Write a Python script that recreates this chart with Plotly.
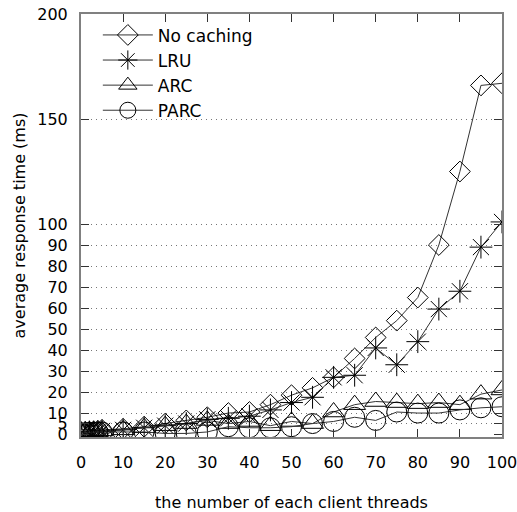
import plotly.graph_objects as go

threads = [0, 1, 2, 3, 4, 5, 10, 15, 20, 25, 30, 35, 40, 45, 50, 55, 60, 65, 70, 75, 80, 85, 90, 95, 100]
no_caching = [1, 1, 1.2, 1.3, 1.5, 2, 2.5, 3.5, 5, 6.5, 8, 10, 10.5, 14, 18.5, 22, 27, 36, 46, 54, 65, 90, 125, 166, 167]
lru = [0.5, 0.8, 1, 1, 1.2, 1.5, 2, 3, 4, 5, 7, 7.5, 8.5, 11.5, 15, 17.5, 27, 28, 41, 33, 44, 59.5, 68, 89, 101]
arc = [1, 1, 1.2, 1.2, 1.3, 1.5, 2, 3, 4, 5, 6.5, 5, 6, 4, 6, 5, 10.5, 14, 15.5, 15, 14.5, 15, 14, 19, 21]
parc = [0.5, 0.6, 0.8, 0.8, 1, 1, 1, 1, 0.3, 0.3, 1, 3.5, 3, 3, 3.5, 5, 6, 8, 6.5, 10.5, 10, 10, 11.5, 12.5, 13]

series = [
    ("No caching", no_caching, "diamond-open", 16),
    ("LRU", lru, "asterisk-open", 19),
    ("ARC", arc, "triangle-up-open", 19),
    ("PARC", parc, "circle-open", 20),
]

y_ticks = [0, 5, 10, 20, 30, 40, 50, 60, 70, 80, 90, 100, 150, 200]
grid_vals = [5, 10, 20, 30, 40, 50, 60, 70, 80, 90, 100, 150]
x_ticks = [0, 10, 20, 30, 40, 50, 60, 70, 80, 90, 100]

FONT = "DejaVu Sans"

fig = go.Figure()
for name, vals, sym, size in series:
    fig.add_trace(go.Scatter(
        x=threads, y=vals, name=name, mode="lines+markers",
        line=dict(color="#333333", width=1),
        marker=dict(symbol=sym, size=size, color="black", line=dict(width=1, color="black")),
    ))

# invisible trace on overlay axis for dotted gridlines
fig.add_trace(go.Scatter(x=[0], y=[0], yaxis="y2", showlegend=False,
                         mode="markers", marker=dict(opacity=0), hoverinfo="skip"))

fig.update_layout(
    width=517, height=512,
    margin=dict(l=81, r=15, t=14, b=75),
    paper_bgcolor="white", plot_bgcolor="white",
    font=dict(family=FONT, size=16, color="black"),
    showlegend=True,
    legend=dict(x=0.04, y=0.992, xanchor="left", yanchor="top",
                bgcolor="rgba(0,0,0,0)", font=dict(size=17, family=FONT),
                tracegroupgap=0, itemwidth=50),
    xaxis=dict(range=[0, 100], tickvals=x_ticks, ticks="inside", ticklen=8,
               tickcolor="#333333", showline=True, linecolor="#808080", linewidth=2,
               mirror="ticks", showgrid=False, zeroline=False, automargin=False,
               ticklabeloverflow="allow", ticklabelstandoff=10,
               tickfont=dict(size=16, family=FONT),
               title=dict(text="the number of each client threads", font=dict(size=16, family=FONT), standoff=28)),
    yaxis=dict(range=[-1.4, 200], tickvals=y_ticks, ticktext=[str(v) for v in y_ticks],
               ticks="inside", ticklen=8, tickcolor="#333333",
               showline=True, linecolor="#808080", linewidth=2, mirror="ticks",
               ticklabelstandoff=8, automargin=False,
               showgrid=False, zeroline=False, tickfont=dict(size=16, family=FONT),
               title=dict(text="average response time (ms)", font=dict(size=16, family=FONT), standoff=8)),
    yaxis2=dict(range=[-1.4, 200], overlaying="y", tickvals=grid_vals, showticklabels=False,
                showgrid=True, gridcolor="#777777", griddash="1px,4px", gridwidth=1,
                automargin=False, zeroline=False, showline=False, ticks=""),
)

fig.write_html("out.html")
